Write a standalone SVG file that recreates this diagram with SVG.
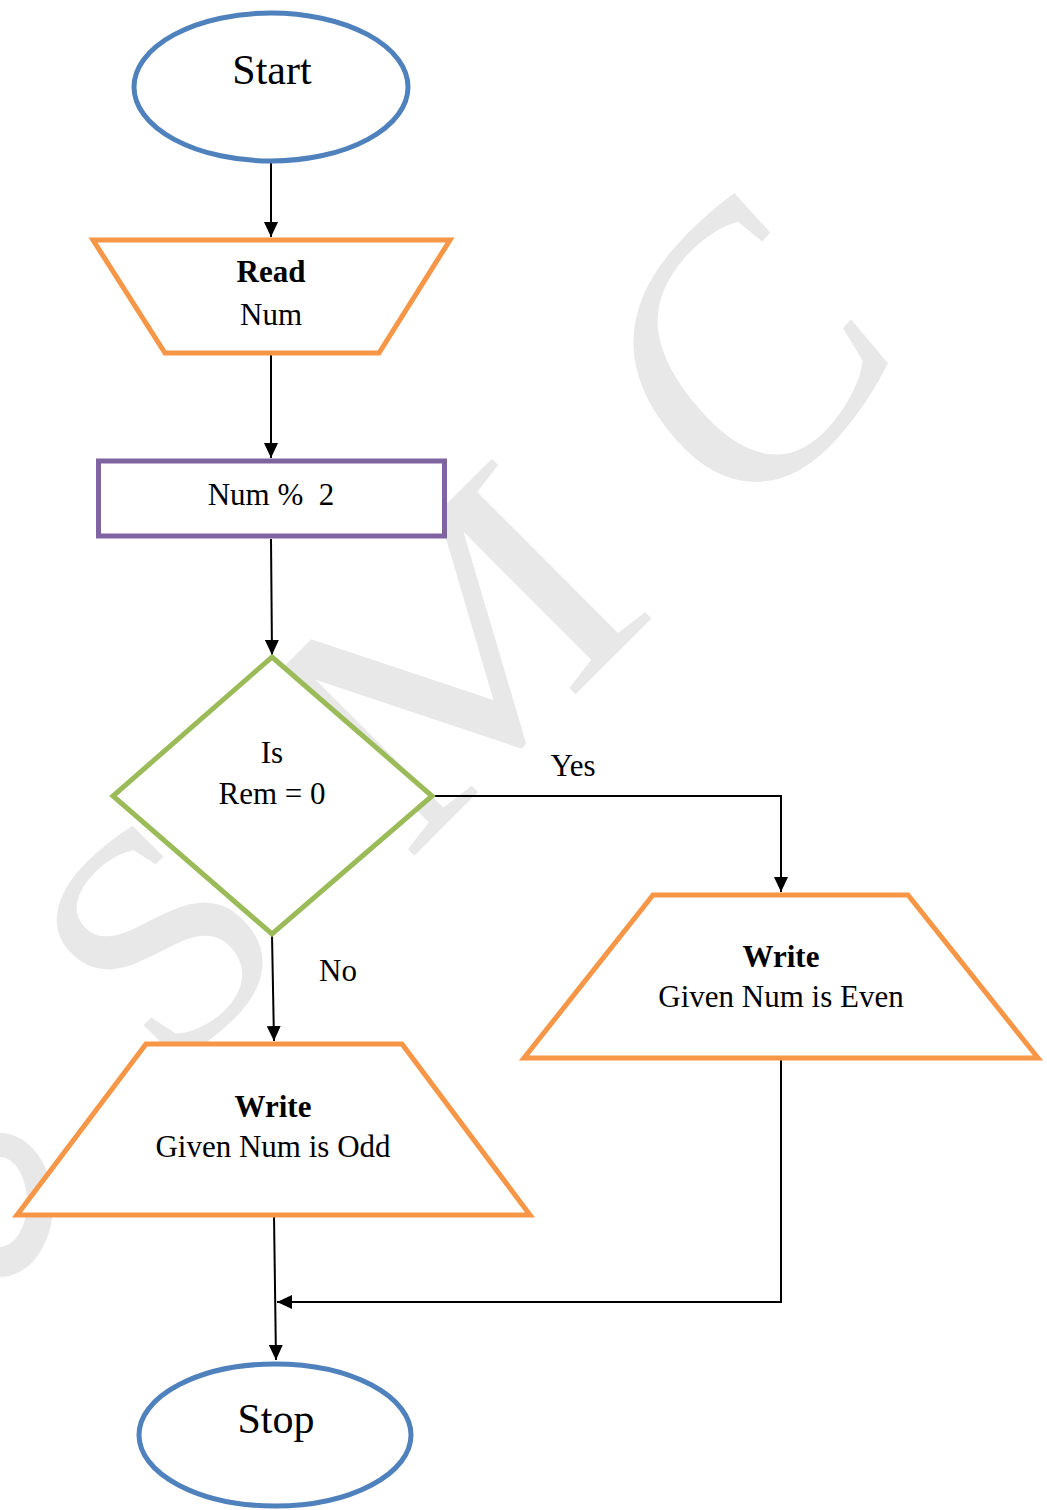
<svg xmlns="http://www.w3.org/2000/svg" width="1047" height="1510" viewBox="0 0 1047 1510">
  <style>
    .wm { fill: #e8e8e8; font-family: "Liberation Serif", "Times New Roman", serif; text-anchor: middle; }
    .node-text { font-family: "Liberation Serif", "Times New Roman", serif; font-size: 31px; fill: #000; text-anchor: middle; }
    .big { font-size: 42px; }
    .bold { font-weight: bold; }
    .terminal { fill: #fff; stroke: #4f81bd; stroke-width: 5; }
    .io { fill: #fff; stroke: #f79646; stroke-width: 5; stroke-linejoin: miter; }
    .process { fill: #fff; stroke: #8064a2; stroke-width: 5; }
    .decision { fill: #fff; stroke: #9bbb59; stroke-width: 5; stroke-linejoin: miter; }
    .conn { fill: none; stroke: #000; stroke-width: 2; }
  </style>
  <defs>
    <marker id="arrow" markerUnits="userSpaceOnUse" markerWidth="16" markerHeight="14" refX="15" refY="7" orient="auto">
      <path d="M0,0 L15,7 L0,14 z" fill="#000"/>
    </marker>
  </defs>

  <rect width="1047" height="1510" fill="#fff"/>

  <!-- background watermark -->
  <g id="watermark">
    <g transform="translate(160,930) scale(1.05) translate(-160,-930)">
      <text class="wm" font-size="305" transform="translate(230.5,1010.5) rotate(-45) scale(1.06,1)">S</text>
    </g>
    <text class="wm" font-size="345" transform="translate(533,737) rotate(-45) scale(1.17,1)">M</text>
    <g transform="translate(760,337) scale(1.12,1.28) translate(-764,-325)">
      <text class="wm" font-size="310" transform="translate(822.5,410.5) rotate(-45)">C</text>
    </g>
    <path d="M0,1133 A53,72 0 0 1 0,1277 L0,1247 A27,45 0 0 0 0,1157 Z" fill="#e8e8e8"/>
  </g>

  <!-- connectors -->
  <g id="connectors">
    <line class="conn" x1="271" y1="163" x2="271" y2="237" marker-end="url(#arrow)"/>
    <line class="conn" x1="271" y1="355" x2="271" y2="458" marker-end="url(#arrow)"/>
    <line class="conn" x1="271" y1="539" x2="272" y2="655" marker-end="url(#arrow)"/>
    <polyline class="conn" points="432,796 781,796 781,892" marker-end="url(#arrow)"/>
    <line class="conn" x1="272" y1="935" x2="274" y2="1041" marker-end="url(#arrow)"/>
    <line class="conn" x1="274" y1="1215" x2="276" y2="1360" marker-end="url(#arrow)"/>
    <polyline class="conn" points="781,1058 781,1302 277,1302" marker-end="url(#arrow)"/>
    <text class="node-text" x="573" y="776">Yes</text>
    <text class="node-text" x="338" y="981">No</text>
  </g>

  <g id="start">
    <ellipse class="terminal" cx="271" cy="87" rx="137" ry="74"/>
    <text class="node-text big" x="272" y="84">Start</text>
  </g>

  <g id="read-num">
    <polygon class="io" points="93,240 450,240 379,353 165,353"/>
    <text class="node-text bold" x="271" y="282">Read</text>
    <text class="node-text" x="271" y="325">Num</text>
  </g>

  <g id="mod">
    <rect class="process" x="98.5" y="461" width="346" height="75"/>
    <text class="node-text" x="271" y="505" xml:space="preserve">Num %  2</text>
  </g>

  <g id="is-zero">
    <polygon class="decision" points="272,657 432,796 272,934 113,796"/>
    <text class="node-text" x="272" y="763">Is</text>
    <text class="node-text" x="272" y="804">Rem = 0</text>
  </g>

  <g id="write-even">
    <polygon class="io" points="653,895 908,895 1038,1058 524,1058"/>
    <text class="node-text bold" x="781" y="967">Write</text>
    <text class="node-text" x="781" y="1007">Given Num is Even</text>
  </g>

  <g id="write-odd">
    <polygon class="io" points="146,1044 402,1044 530,1215 17,1215"/>
    <text class="node-text bold" x="273" y="1117">Write</text>
    <text class="node-text" x="273" y="1157">Given Num is Odd</text>
  </g>

  <g id="stop">
    <ellipse class="terminal" cx="275" cy="1435" rx="136" ry="71"/>
    <text class="node-text big" x="276" y="1433">Stop</text>
  </g>
</svg>
